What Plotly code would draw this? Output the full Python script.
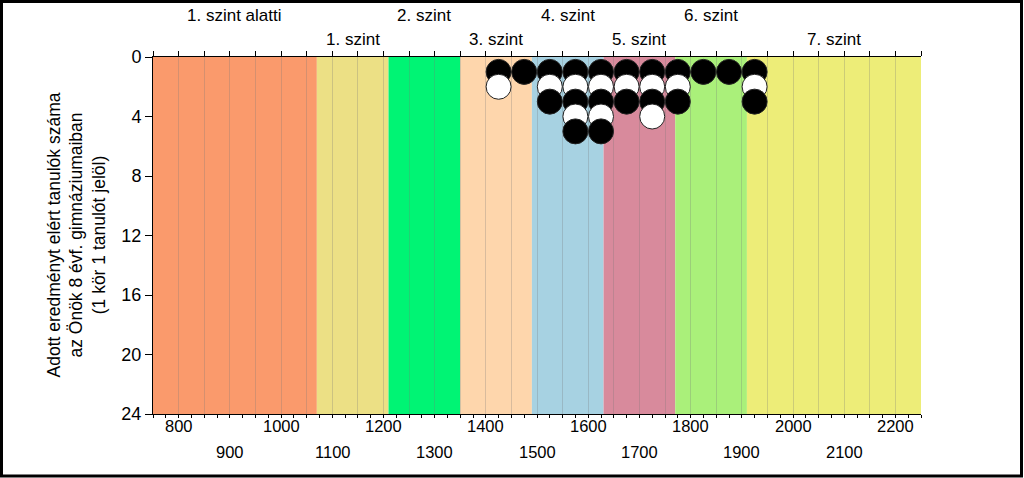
import plotly.graph_objects as go

# ---- data ----
band_edges = [750, 1070, 1210, 1350, 1490, 1630, 1770, 1910, 2250]
band_names = ["1. szint alatti", "1. szint", "2. szint", "3. szint",
              "4. szint", "5. szint", "6. szint", "7. szint"]
band_colors = ["#FA9A6C", "#ECE085", "#00F474", "#FED6AC",
               "#A7D2E2", "#D88A9C", "#AAF07A", "#EDED78"]
scores = [1425, 1475, 1525, 1575, 1625, 1675, 1725, 1775, 1825, 1875, 1925]
counts = [2, 1, 3, 5, 5, 3, 4, 3, 1, 1, 3]
x_labels = [800, 900, 1000, 1100, 1200, 1300, 1400, 1500, 1600, 1700,
            1800, 1900, 2000, 2100, 2200]
y_ticks = [0, 4, 8, 12, 16, 20, 24]
y_title = "Adott eredményt elért tanulók száma<br>az Önök 8 évf. gimnáziumaiban<br>(1 kör 1 tanulót jelöl)"

# ---- layout geometry (pixels) ----
W, H = 1024, 478
L, R, T, B = 153, 921, 57, 414
pw, ph = R - L, B - T

def px_x(p):
    return (p - L) / pw

def px_y(p):
    return (B - p) / ph

FONT = "Liberation Sans, Arial, sans-serif"

# ---- points: one per student, drawn level by level ----
px, py, pc = [], [], []
for level in range(1, max(counts) + 1):
    for s, c in zip(scores, counts):
        if level <= c:
            px.append(s)
            py.append(level)
            pc.append("black" if level % 2 == 1 else "white")

fig = go.Figure()
fig.add_trace(go.Scatter(
    x=px, y=py, mode="markers",
    marker=dict(size=25, color=pc, line=dict(color="#222222", width=1)),
    hoverinfo="skip", showlegend=False))
# invisible trace for top axis
fig.add_trace(go.Scatter(x=[band_edges[0], band_edges[-1]], y=[0, 0], xaxis="x2",
                         mode="markers", marker=dict(opacity=0), hoverinfo="skip",
                         showlegend=False))

shapes = []
for i in range(len(band_names)):
    shapes.append(dict(type="rect", xref="x", yref="paper",
                       x0=band_edges[i], x1=band_edges[i + 1], y0=0, y1=1,
                       fillcolor=band_colors[i], line=dict(width=0), layer="below"))
# outer frame
shapes.append(dict(type="rect", xref="paper", yref="paper",
                   x0=px_x(1.5), x1=px_x(1021.5), y0=px_y(476), y1=px_y(1.5),
                   line=dict(color="black", width=3), fillcolor="rgba(0,0,0,0)"))

annotations = []
for i, name in enumerate(band_names):
    cx = (band_edges[i] + band_edges[i + 1]) / 2
    ypix = 16 if i % 2 == 0 else 40
    annotations.append(dict(x=cx, xref="x", y=px_y(ypix), yref="paper",
                            text=name, showarrow=False, xanchor="center",
                            yanchor="middle", font=dict(size=17, color="black", family=FONT)))
for j, v in enumerate(x_labels):
    ypix = 426 if j % 2 == 0 else 452
    annotations.append(dict(x=v, xref="x", y=px_y(ypix), yref="paper",
                            text=str(v), showarrow=False, xanchor="center",
                            yanchor="middle", font=dict(size=16.5, color="black", family=FONT)))
annotations.append(dict(x=px_x(76), xref="paper", y=0.5, yref="paper",
                        text=y_title, textangle=-90, showarrow=False,
                        xanchor="center", yanchor="middle",
                        font=dict(size=17.5, color="black", family=FONT)))

fig.update_layout(
    width=W, height=H,
    margin=dict(l=L, r=W - R, t=T, b=H - B, pad=0),
    paper_bgcolor="white", plot_bgcolor="white",
    font=dict(family=FONT, color="black"),
    shapes=shapes, annotations=annotations,
    xaxis=dict(range=[band_edges[0], band_edges[-1]], tick0=750, dtick=50,
               showgrid=True, gridcolor="rgba(120,120,120,0.28)", gridwidth=1.2,
               showticklabels=False, ticks="outside", ticklen=3, tickcolor="black",
               showline=True, linecolor="black", linewidth=1, zeroline=False,
               minor=dict(dtick=25, tick0=750, ticks="outside", ticklen=3,
                          tickcolor="black", showgrid=False)),
    xaxis2=dict(range=[band_edges[0], band_edges[-1]], overlaying="x", side="top",
                tick0=750, dtick=50, showgrid=False, showticklabels=False,
                ticks="outside", ticklen=5, tickcolor="black",
                showline=True, linecolor="black", linewidth=1, zeroline=False),
    yaxis=dict(range=[24, 0], tickvals=y_ticks, showgrid=False, zeroline=False,
               ticks="outside", ticklen=7, tickcolor="black",
               showline=True, linecolor="black", linewidth=1,
               tickfont=dict(size=18, color="black", family=FONT)),
)

fig.write_html("out.html", config={"displayModeBar": False},
               post_script="document.body.style.margin='0px';document.body.style.overflow='hidden';")
